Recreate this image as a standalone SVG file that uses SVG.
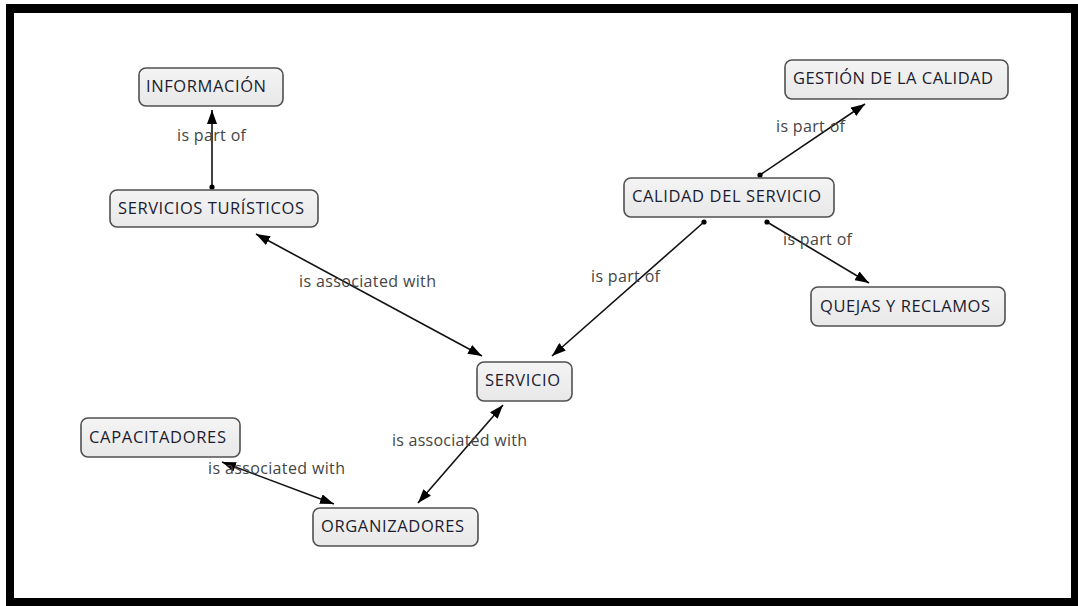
<svg xmlns="http://www.w3.org/2000/svg" width="1078" height="606" viewBox="0 0 1078 606">
  <style>
    .node rect { fill: url(#nodeFill); stroke: #505050; stroke-width: 1.6; }
    .node text { font-family: "Open Sans", "Liberation Sans", sans-serif; font-size: 16.5px; fill: #1c1c30; }
    .lbl { font-family: "Open Sans", "Liberation Sans", sans-serif; font-size: 16px; fill: #454545; }
    .conn line { stroke: #111; stroke-width: 1.6; fill: none; }
    .arrow { marker-end: url(#head); }
    .both { marker-start: url(#head); marker-end: url(#head); }
    .from { marker-start: url(#dot); }
  </style>
  <defs>
    <linearGradient id="nodeFill" x1="0" y1="0" x2="0" y2="1">
      <stop offset="0" stop-color="#f4f4f4"/>
      <stop offset="1" stop-color="#e8e8e8"/>
    </linearGradient>
    <marker id="head" viewBox="0 0 14 10" refX="14" refY="5" markerWidth="14" markerHeight="10" markerUnits="userSpaceOnUse" orient="auto-start-reverse">
      <path d="M0,0 L14,5 L0,10 Z" fill="#000"/>
    </marker>
    <marker id="dot" viewBox="0 0 6 6" refX="3" refY="3" markerWidth="6" markerHeight="6" markerUnits="userSpaceOnUse">
      <circle cx="3" cy="3" r="2.6" fill="#000"/>
    </marker>
  </defs>

  <!-- frame -->
  <rect x="0" y="0" width="1078" height="606" fill="#ffffff"/>
  <rect x="6" y="4" width="1072" height="602" fill="#000"/>
  <rect x="14" y="13" width="1057" height="585" fill="#ffffff"/>

  <!-- connectors -->
  <g id="connectors" class="conn">
    <line class="from arrow" x1="212" y1="187" x2="212" y2="110"/>
    <line class="both" x1="256" y1="234" x2="482" y2="356"/>
    <line class="from arrow" x1="704" y1="222" x2="552" y2="356"/>
    <line class="from arrow" x1="760" y1="175" x2="865" y2="104"/>
    <line class="from arrow" x1="767" y1="222" x2="869" y2="283"/>
    <line class="both" x1="418" y1="503" x2="503" y2="405"/>
    <line class="both" x1="222" y1="462" x2="334" y2="504"/>
  </g>

  <!-- link labels -->
  <g id="labels">
    <text class="lbl" x="177" y="141" textLength="69">is part of</text>
    <text class="lbl" x="299" y="287" textLength="137">is associated with</text>
    <text class="lbl" x="591" y="282" textLength="69">is part of</text>
    <text class="lbl" x="776" y="132" textLength="69">is part of</text>
    <text class="lbl" x="783" y="245" textLength="69">is part of</text>
    <text class="lbl" x="392" y="446" textLength="135">is associated with</text>
    <text class="lbl" x="208" y="474" textLength="137">is associated with</text>
  </g>

  <!-- concepts -->
  <g id="informacion" class="node">
    <rect x="139" y="68" width="144" height="38" rx="7"/>
    <text x="146" y="92" textLength="120">INFORMACIÓN</text>
  </g>
  <g id="servicios-turisticos" class="node">
    <rect x="110" y="190" width="208" height="37" rx="7"/>
    <text x="118" y="214" textLength="186">SERVICIOS TURÍSTICOS</text>
  </g>
  <g id="gestion-calidad" class="node">
    <rect x="785" y="60" width="223" height="39" rx="7"/>
    <text x="793" y="84" textLength="200">GESTIÓN DE LA CALIDAD</text>
  </g>
  <g id="calidad-servicio" class="node">
    <rect x="624" y="178" width="210" height="39" rx="7"/>
    <text x="632" y="202" textLength="189">CALIDAD DEL SERVICIO</text>
  </g>
  <g id="quejas-reclamos" class="node">
    <rect x="811" y="287" width="194" height="39" rx="7"/>
    <text x="820" y="312" textLength="170">QUEJAS Y RECLAMOS</text>
  </g>
  <g id="servicio" class="node">
    <rect x="477" y="362" width="95" height="39" rx="7"/>
    <text x="485" y="386" textLength="75">SERVICIO</text>
  </g>
  <g id="capacitadores" class="node">
    <rect x="81" y="418" width="159" height="39" rx="7"/>
    <text x="89" y="443" textLength="137">CAPACITADORES</text>
  </g>
  <g id="organizadores" class="node">
    <rect x="313" y="508" width="165" height="38" rx="7"/>
    <text x="321" y="532" textLength="143">ORGANIZADORES</text>
  </g>
</svg>
